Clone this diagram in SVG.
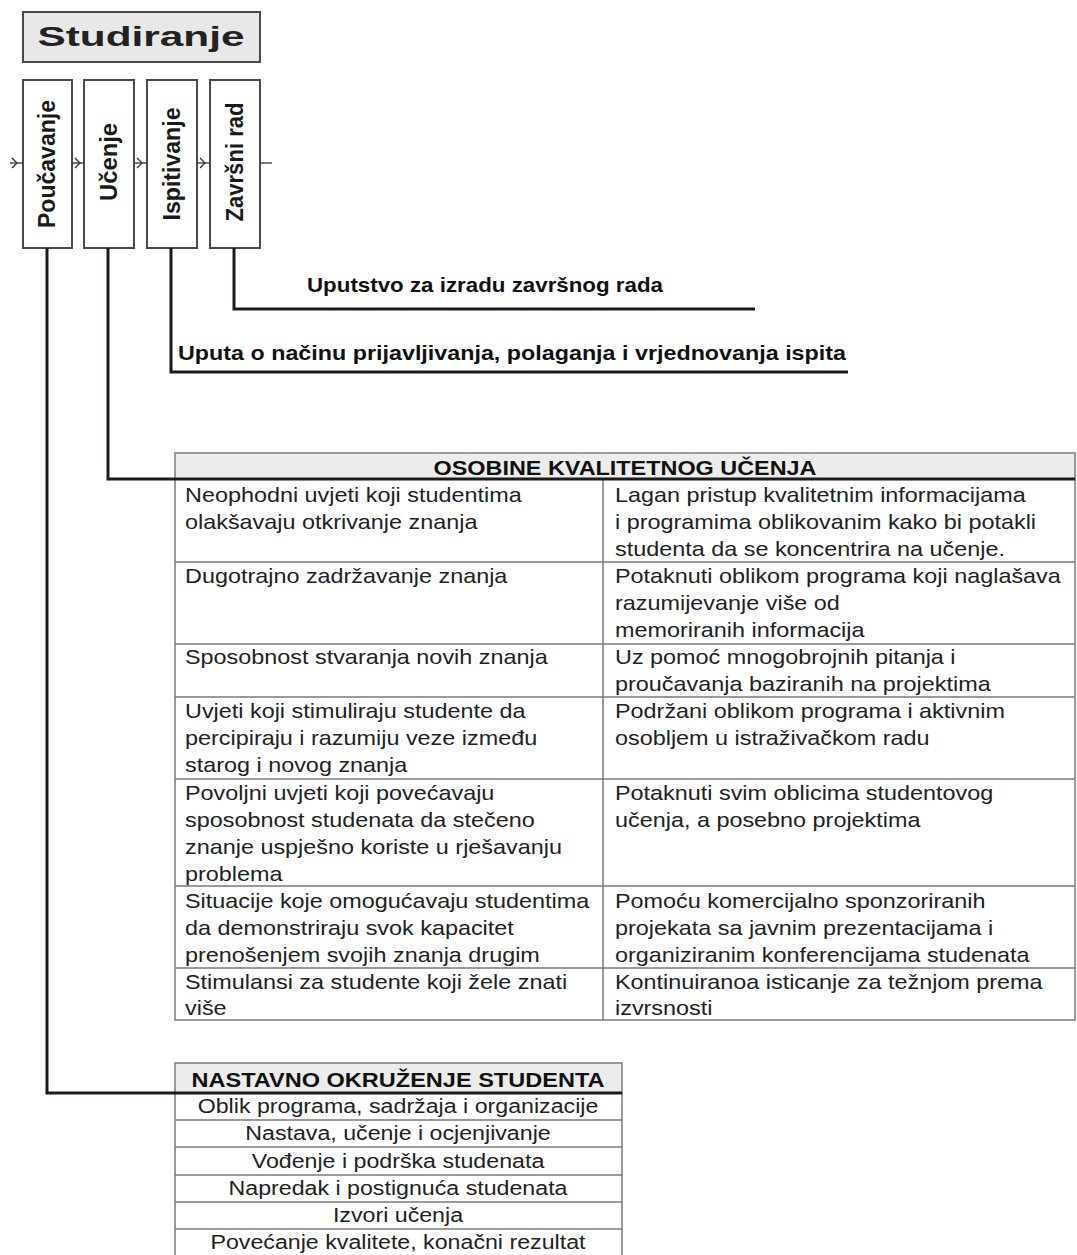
<svg xmlns="http://www.w3.org/2000/svg" width="1077" height="1255" viewBox="0 0 1077 1255">
<style>
.box{fill:#fff;stroke:#4a4a4a;stroke-width:2}
.hdr{fill:#e8e8e8;stroke:#4a4a4a;stroke-width:2}
.vl{font-family:"Liberation Sans",Arial,sans-serif;font-weight:bold;font-size:23px;fill:#1a1a1a}
.conn{fill:none;stroke:#1e1a1a;stroke-width:3}
.thin{fill:none;stroke:#333;stroke-width:1.3}
.lbl{font-family:"Liberation Sans",Arial,sans-serif;font-weight:bold;font-size:21px;fill:#111}
.tb{fill:none;stroke:#7a7a7a;stroke-width:1.5}
.th{fill:#ececec;stroke:#7a7a7a;stroke-width:1.5}
.tt{font-family:"Liberation Sans",Arial,sans-serif;font-size:20px;fill:#222}
.tc{font-family:"Liberation Sans",Arial,sans-serif;font-size:20px;fill:#222;text-anchor:middle}
.thd{font-family:"Liberation Sans",Arial,sans-serif;font-weight:bold;font-size:20px;fill:#111;text-anchor:middle}
</style>
<rect width="1077" height="1255" fill="#fff"/>

<g id="studiranje">
<rect class="hdr" x="23" y="12" width="237" height="50"/>
<text x="141" y="46" text-anchor="middle" font-family="Liberation Sans, Arial, sans-serif" font-weight="bold" font-size="28" fill="#222" textLength="207" lengthAdjust="spacingAndGlyphs">Studiranje</text>
</g>

<g id="poucavanje">
<rect class="box" x="23" y="80" width="49" height="168"/>
<text class="vl" transform="translate(55,164) rotate(-90)" text-anchor="middle" textLength="128" lengthAdjust="spacingAndGlyphs">Poučavanje</text>
</g>
<g id="ucenje">
<rect class="box" x="84" y="80" width="50" height="168"/>
<text class="vl" transform="translate(117,162) rotate(-90)" text-anchor="middle" textLength="78" lengthAdjust="spacingAndGlyphs">Učenje</text>
</g>
<g id="ispitivanje">
<rect class="box" x="147" y="80" width="50" height="168"/>
<text class="vl" transform="translate(180,164) rotate(-90)" text-anchor="middle" textLength="113" lengthAdjust="spacingAndGlyphs">Ispitivanje</text>
</g>
<g id="zavrsni">
<rect class="box" x="210" y="80" width="50" height="168"/>
<text class="vl" transform="translate(243,162) rotate(-90)" text-anchor="middle" textLength="119" lengthAdjust="spacingAndGlyphs">Završni rad</text>
</g>

<g id="uputstvo">
<text class="lbl" x="307" y="292" textLength="356" lengthAdjust="spacingAndGlyphs">Uputstvo za izradu završnog rada</text>
</g>
<g id="uputa">
<text class="lbl" x="178" y="360" textLength="668" lengthAdjust="spacingAndGlyphs">Uputa o načinu prijavljivanja, polaganja i vrjednovanja ispita</text>
</g>

<g id="osobine">
<rect class="th" x="175" y="453" width="900" height="26"/>
<rect class="tb" x="175" y="479" width="900" height="541"/>
<line class="tb" x1="603" y1="479" x2="603" y2="1020"/>
<line class="tb" x1="175" y1="562" x2="1075" y2="562"/>
<line class="tb" x1="175" y1="644" x2="1075" y2="644"/>
<line class="tb" x1="175" y1="697" x2="1075" y2="697"/>
<line class="tb" x1="175" y1="779" x2="1075" y2="779"/>
<line class="tb" x1="175" y1="886" x2="1075" y2="886"/>
<line class="tb" x1="175" y1="968" x2="1075" y2="968"/>
<text class="thd" x="625" y="475" textLength="383" lengthAdjust="spacingAndGlyphs">OSOBINE KVALITETNOG UČENJA</text>
<g transform="translate(185,0) scale(1.17,1)">
<text class="tt" x="0" y="502">Neophodni uvjeti koji studentima</text>
<text class="tt" x="0" y="529">olakšavaju otkrivanje znanja</text>
<text class="tt" x="0" y="583">Dugotrajno zadržavanje znanja</text>
<text class="tt" x="0" y="664">Sposobnost stvaranja novih znanja</text>
<text class="tt" x="0" y="718">Uvjeti koji stimuliraju studente da</text>
<text class="tt" x="0" y="745">percipiraju i razumiju veze između</text>
<text class="tt" x="0" y="772">starog i novog znanja</text>
<text class="tt" x="0" y="800">Povoljni uvjeti koji povećavaju</text>
<text class="tt" x="0" y="827">sposobnost studenata da stečeno</text>
<text class="tt" x="0" y="854">znanje uspješno koriste u rješavanju</text>
<text class="tt" x="0" y="881">problema</text>
<text class="tt" x="0" y="908">Situacije koje omogućavaju studentima</text>
<text class="tt" x="0" y="935">da demonstriraju svok kapacitet</text>
<text class="tt" x="0" y="962">prenošenjem svojih znanja drugim</text>
<text class="tt" x="0" y="989">Stimulansi za studente koji žele znati</text>
<text class="tt" x="0" y="1015">više</text>
</g>
<g transform="translate(615,0) scale(1.17,1)">
<text class="tt" x="0" y="502">Lagan pristup kvalitetnim informacijama</text>
<text class="tt" x="0" y="529">i programima oblikovanim kako bi potakli</text>
<text class="tt" x="0" y="556">studenta da se koncentrira na učenje.</text>
<text class="tt" x="0" y="583">Potaknuti oblikom programa koji naglašava</text>
<text class="tt" x="0" y="610">razumijevanje više od</text>
<text class="tt" x="0" y="637">memoriranih informacija</text>
<text class="tt" x="0" y="664">Uz pomoć mnogobrojnih pitanja i</text>
<text class="tt" x="0" y="691">proučavanja baziranih na projektima</text>
<text class="tt" x="0" y="718">Podržani oblikom programa i aktivnim</text>
<text class="tt" x="0" y="745">osobljem u istraživačkom radu</text>
<text class="tt" x="0" y="800">Potaknuti svim oblicima studentovog</text>
<text class="tt" x="0" y="827">učenja, a posebno projektima</text>
<text class="tt" x="0" y="908">Pomoću komercijalno sponzoriranih</text>
<text class="tt" x="0" y="935">projekata sa javnim prezentacijama i</text>
<text class="tt" x="0" y="962">organiziranim konferencijama studenata</text>
<text class="tt" x="0" y="989">Kontinuiranoa isticanje za težnjom prema</text>
<text class="tt" x="0" y="1015">izvrsnosti</text>
</g>
</g>

<g id="nastavno">
<rect class="th" x="175" y="1063" width="447" height="30"/>
<rect class="tb" x="175" y="1093" width="447" height="175"/>
<line class="tb" x1="175" y1="1120" x2="622" y2="1120"/>
<line class="tb" x1="175" y1="1147" x2="622" y2="1147"/>
<line class="tb" x1="175" y1="1175" x2="622" y2="1175"/>
<line class="tb" x1="175" y1="1202" x2="622" y2="1202"/>
<line class="tb" x1="175" y1="1229" x2="622" y2="1229"/>
<text class="thd" x="398" y="1087" textLength="413" lengthAdjust="spacingAndGlyphs">NASTAVNO OKRUŽENJE STUDENTA</text>
<g transform="translate(398,0) scale(1.16,1)">
<text class="tc" x="0" y="1113">Oblik programa, sadržaja i organizacije</text>
<text class="tc" x="0" y="1140">Nastava, učenje i ocjenjivanje</text>
<text class="tc" x="0" y="1168">Vođenje i podrška studenata</text>
<text class="tc" x="0" y="1195">Napredak i postignuća studenata</text>
<text class="tc" x="0" y="1222">Izvori učenja</text>
<text class="tc" x="0" y="1249">Povećanje kvalitete, konačni rezultat</text>
</g>
</g>

<g id="connectors">
<line class="thin" x1="10" y1="163" x2="23" y2="163"/>
<path class="thin" d="M12,158 L17,163 L12,168"/>
<line class="thin" x1="72" y1="163" x2="84" y2="163"/>
<path class="thin" d="M75,158 L80,163 L75,168"/>
<line class="thin" x1="134" y1="163" x2="147" y2="163"/>
<path class="thin" d="M137,158 L142,163 L137,168"/>
<line class="thin" x1="197" y1="163" x2="210" y2="163"/>
<path class="thin" d="M200,158 L205,163 L200,168"/>
<line class="thin" x1="260" y1="163" x2="272" y2="163"/>
<polyline class="conn" points="234,248 234,309 755,309"/>
<polyline class="conn" points="171,248 171,372 848,372"/>
<polyline class="conn" points="108,248 108,479 1075,479"/>
<polyline class="conn" points="47,248 47,1093 622,1093"/>
</g>
</svg>
